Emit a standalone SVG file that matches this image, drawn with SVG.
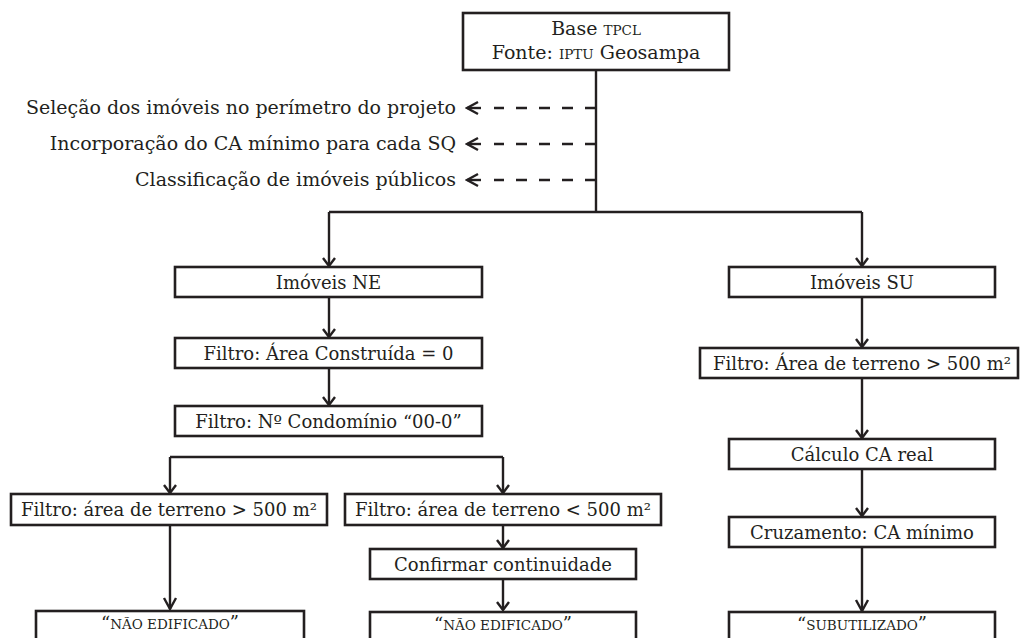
<svg xmlns="http://www.w3.org/2000/svg" width="1021" height="638" viewBox="0 0 1021 638">
<defs>
<style>
.box{fill:#fff;stroke:#231f20;stroke-width:2.6}
.t{font-family:"DejaVu Serif","Liberation Serif",serif;font-size:18px;fill:#231f20;text-anchor:middle}
.top{font-size:19px}
.sc{font-size:13.5px}
.lbl{font-family:"DejaVu Serif","Liberation Serif",serif;font-size:19px;fill:#231f20;text-anchor:end}
.c{fill:none;stroke:#231f20;stroke-width:2.4}
.d{fill:none;stroke:#231f20;stroke-width:2.4;stroke-dasharray:11 12}
.ar{marker-end:url(#ah)}
.al{marker-end:url(#ahl)}
</style>
<marker id="ah" viewBox="-12 -8 14 16" refX="0" refY="0" markerWidth="14" markerHeight="16" markerUnits="userSpaceOnUse" orient="auto">
<path d="M-8,-6 L0,0 L-8,6" fill="none" stroke="#231f20" stroke-width="2.4"/>
</marker>
<marker id="ahl" viewBox="-14 -9 16 18" refX="0" refY="0" markerWidth="16" markerHeight="18" markerUnits="userSpaceOnUse" orient="auto">
<path d="M-11,-6 L0,0 L-11,6" fill="none" stroke="#231f20" stroke-width="2.4"/>
</marker>
</defs>
<rect width="1021" height="638" fill="#fff"/>

<g id="connectors">
<path class="c" d="M596,70 V212 M329,212 H862"/>
<path class="d" d="M596,108 H494 M596,144 H494 M596,180 H494"/>
<path class="c al" d="M481,108 H467"/>
<path class="c al" d="M481,144 H467"/>
<path class="c al" d="M481,180 H467"/>
<path class="c ar" d="M329,212 V266"/>
<path class="c ar" d="M329,297 V337"/>
<path class="c ar" d="M329,368 V405"/>
<path class="c" d="M170,457 H503"/>
<path class="c ar" d="M170,457 V493"/>
<path class="c ar" d="M503,457 V493"/>
<path class="c al" d="M170,525 V609"/>
<path class="c ar" d="M503,525 V548"/>
<path class="c ar" d="M503,579 V610"/>
<path class="c ar" d="M862,212 V266"/>
<path class="c ar" d="M862,297 V347"/>
<path class="c ar" d="M862,378 V438"/>
<path class="c ar" d="M862,469 V516"/>
<path class="c al" d="M862,547 V611"/>
</g>

<g id="base">
<rect class="box" x="463" y="13" width="266" height="57"/>
<text class="t top" x="596" y="35">Base <tspan class="sc">TPCL</tspan></text>
<text class="t top" x="596" y="59">Fonte: <tspan class="sc">IPTU</tspan> Geosampa</text>
</g>

<g id="labels">
<text class="lbl" x="456" y="114">Seleção dos imóveis no perímetro do projeto</text>
<text class="lbl" x="456" y="150">Incorporação do CA mínimo para cada SQ</text>
<text class="lbl" x="456" y="186">Classificação de imóveis públicos</text>
</g>

<g id="imoveis-ne">
<rect class="box" x="175" y="267" width="307" height="30"/>
<text class="t" x="328.5" y="288.5">Imóveis NE</text>
</g>
<g id="filtro-area-construida">
<rect class="box" x="175" y="338" width="307" height="30"/>
<text class="t" x="328.5" y="359.5">Filtro: Área Construída = 0</text>
</g>
<g id="filtro-condominio">
<rect class="box" x="175" y="406" width="307" height="30"/>
<text class="t" x="328.5" y="427.5">Filtro: Nº Condomínio “00-0”</text>
</g>
<g id="filtro-maior">
<rect class="box" x="11" y="494" width="316" height="31"/>
<text class="t" x="169" y="516">Filtro: área de terreno &gt; 500 m²</text>
</g>
<g id="filtro-menor">
<rect class="box" x="345" y="494" width="316" height="31"/>
<text class="t" x="503" y="516">Filtro: área de terreno &lt; 500 m²</text>
</g>
<g id="confirmar">
<rect class="box" x="370" y="549" width="266" height="30"/>
<text class="t" x="503" y="570.5">Confirmar continuidade</text>
</g>
<g id="nao-edificado-1">
<rect class="box" x="36" y="611" width="268" height="40"/>
<text class="t" x="170" y="629">“<tspan class="sc">NÃO EDIFICADO</tspan>”</text>
</g>
<g id="nao-edificado-2">
<rect class="box" x="370" y="612" width="266" height="40"/>
<text class="t" x="503" y="630">“<tspan class="sc">NÃO EDIFICADO</tspan>”</text>
</g>

<g id="imoveis-su">
<rect class="box" x="729" y="267" width="266" height="30"/>
<text class="t" x="862" y="288.5">Imóveis SU</text>
</g>
<g id="filtro-su">
<rect class="box" x="700" y="348" width="318" height="30"/>
<text class="t" x="862" y="369.5">Filtro: Área de terreno &gt; 500 m²</text>
</g>
<g id="calculo">
<rect class="box" x="729" y="439" width="266" height="30"/>
<text class="t" x="862" y="460.5">Cálculo CA real</text>
</g>
<g id="cruzamento">
<rect class="box" x="729" y="517" width="266" height="30"/>
<text class="t" x="862" y="538.5">Cruzamento: CA mínimo</text>
</g>
<g id="subutilizado">
<rect class="box" x="729" y="612" width="266" height="40"/>
<text class="t" x="862" y="630">“<tspan class="sc">SUBUTILIZADO</tspan>”</text>
</g>
</svg>
